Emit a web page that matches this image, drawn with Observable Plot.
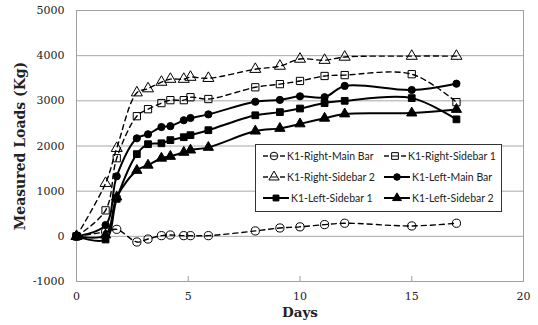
<!DOCTYPE html>
<html>
<head>
<meta charset="utf-8">
<script src="https://cdn.jsdelivr.net/npm/d3@7"></script>
<script src="https://cdn.jsdelivr.net/npm/@observablehq/plot@0.6"></script>
<style>
  body { margin: 0; background: white; }
  #wrap { position: relative; width: 538px; height: 325px; }
  #legend { position: absolute; left: 255px; top: 144px; width: 245px; height: 66px;
            border: 1px solid #333; background: white; font-family: Lato, "Open Sans", sans-serif;
            font-size: 10.5px; color: #222; }
  .item { position: absolute; height: 14px; line-height: 14px; white-space: nowrap; }
  .item svg { position: absolute; left: 0; top: 1px; }
  .item span { position: absolute; }
</style>
</head>
<body>
<div id="wrap"><div id="legend"></div></div>
<script>
// Data
const days = [0, 1.3, 1.8, 2.7, 3.2, 3.8, 4.2, 4.8, 5.1, 5.9, 8, 9.1, 10, 11.1, 12, 15, 17];
const seriesNames = ["K1-Right-Main Bar", "K1-Right-Sidebar 1", "K1-Right-Sidebar 2",
                     "K1-Left-Main Bar", "K1-Left-Sidebar 1", "K1-Left-Sidebar 2"];
const rightMain  = [0, 100, 155, -125, -60, 15, 30, 15, 15, 15, 120, 185, 210, 260, 290, 230, 290];
const rightSide1 = [0, 575, 1730, 2660, 2815, 2950, 3015, 3015, 3080, 3040, 3300, 3370, 3440, 3550, 3570, 3590, 2970];
const rightSide2 = [0, 1175, 1950, 3180, 3270, 3415, 3480, 3480, 3525, 3500, 3700, 3770, 3925, 3900, 3970, 3990, 3990];
const leftMain   = [0, 250, 1330, 2170, 2260, 2420, 2440, 2570, 2620, 2700, 2980, 3020, 3100, 3080, 3330, 3240, 3380];
const leftSide1  = [0, -70, 830, 1820, 2040, 2060, 2130, 2195, 2240, 2350, 2680, 2750, 2830, 2950, 3000, 3060, 2590];
const leftSide2  = [0, 30, 870, 1460, 1575, 1730, 1770, 1860, 1910, 1970, 2330, 2390, 2490, 2615, 2710, 2730, 2810];
const xTicks = [0, 5, 10, 15, 20];
const xMinorTicks = [5, 10, 15];
const yTicks = [-1000, 0, 1000, 2000, 3000, 4000, 5000];
const xTitle = "Days";
const yTitle = "Measured Loads (Kg)";

const values = [rightMain, rightSide1, rightSide2, leftMain, leftSide1, leftSide2];
const styles = [
  {symbol: "circle",   dashed: true,  filled: false},
  {symbol: "square",   dashed: true,  filled: false},
  {symbol: "triangle", dashed: true,  filled: false},
  {symbol: "circle",   dashed: false, filled: true},
  {symbol: "square",   dashed: false, filled: true},
  {symbol: "triangle", dashed: false, filled: true}
];

const series = seriesNames.map((name, i) => ({
  name, ...styles[i],
  rows: days.map((d, j) => ({day: d, load: values[i][j]}))
}));

const lineMarks = series.map(s => Plot.line(s.rows, {
  x: "day", y: "load", curve: "catmull-rom", stroke: "black",
  strokeWidth: s.dashed ? 1.4 : 2, strokeDasharray: s.dashed ? "5,4" : null
}));
const dotMarks = series.map(s => Plot.dot(s.rows, {
  x: "day", y: "load", symbol: () => s.symbol,
  r: s.filled ? (s.symbol === "circle" ? 3.6 : 3.8) : 4.1,
  fill: s.filled ? "black" : "none", stroke: "black", strokeWidth: 1
}));

const plotHeight = 325 - 10 - 44;

const chart = Plot.plot({
  width: 538, height: 325,
  marginLeft: 76, marginRight: 15, marginTop: 10, marginBottom: 44,
  x: {domain: [0, 20]},
  y: {domain: [-1000, 5000]},
  symbol: {domain: ["circle", "square", "triangle"], range: ["circle", "square", "triangle"]},
  style: {fontFamily: "DejaVu Serif", fontSize: "11px", color: "#222", background: "white", overflow: "visible"},
  marks: [
    Plot.gridY(yTicks, {stroke: "#a8a8a8", strokeOpacity: 1}),
    Plot.frame({stroke: "#a0a0a0"}),
    Plot.ruleX(xMinorTicks, {stroke: "#a0a0a0", insetTop: plotHeight - 5}),
    Plot.axisY(yTicks, {tickSize: 0, tickPadding: 12, label: null, tickFormat: d => String(d)}),
    Plot.axisX(xTicks, {tickSize: 0, tickPadding: 11, label: null, tickFormat: d => String(d)}),
    ...lineMarks,
    ...dotMarks,
    Plot.text([xTitle], {frameAnchor: "bottom", dy: 35, fontWeight: "bold", fontSize: 13.5, fill: "#222"}),
    Plot.text([yTitle], {frameAnchor: "left", textAnchor: "middle", rotate: -90, dx: -56, fontWeight: "bold", fontSize: 14, fill: "#222"})
  ]
});
document.getElementById("wrap").prepend(chart);

// Legend (inside the plot area, as in the reference)
const legend = document.getElementById("legend");
const symbolTypes = {circle: d3.symbolCircle, square: d3.symbolSquare, triangle: d3.symbolTriangle};
const pos = [[7, 4], [128, 4], [7, 25], [128, 25], [7, 46], [128, 46]];
series.forEach((s, i) => {
  const item = document.createElement("div");
  item.className = "item";
  item.style.left = pos[i][0] + "px";
  item.style.top = pos[i][1] + "px";
  const w = s.dashed ? 22 : 26;
  const svg = d3.create("svg").attr("width", w).attr("height", 12);
  if (s.dashed) {
    svg.append("line").attr("x1", 0).attr("x2", 5).attr("y1", 6).attr("y2", 6).attr("stroke", "black").attr("stroke-width", 1.4);
    svg.append("line").attr("x1", w - 5).attr("x2", w).attr("y1", 6).attr("y2", 6).attr("stroke", "black").attr("stroke-width", 1.4);
  } else {
    svg.append("line").attr("x1", 0).attr("x2", w).attr("y1", 6).attr("y2", 6).attr("stroke", "black").attr("stroke-width", 2);
  }
  const r = s.filled ? 3.3 : 3.8;
  svg.append("path")
    .attr("d", d3.symbol(symbolTypes[s.symbol], Math.PI * r * r)())
    .attr("transform", `translate(${w / 2},6)`)
    .attr("fill", s.filled ? "black" : "white").attr("stroke", "black").attr("stroke-width", 1);
  if (!s.filled) {
    svg.append("line").attr("x1", w / 2 - 3).attr("x2", w / 2 + 3).attr("y1", 6).attr("y2", 6).attr("stroke", "black").attr("stroke-width", 1);
  }
  item.appendChild(svg.node());
  const span = document.createElement("span");
  span.style.left = (w + 2) + "px";
  span.textContent = s.name;
  item.appendChild(span);
  legend.appendChild(item);
});
</script>
</body>
</html>
